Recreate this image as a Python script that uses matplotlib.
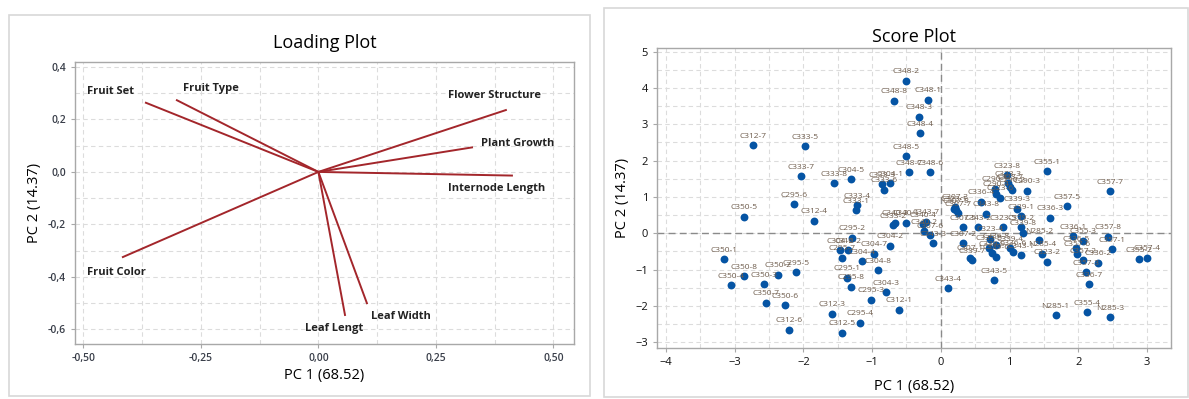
import matplotlib.pyplot as plt
from matplotlib.patches import Rectangle
from matplotlib.ticker import FuncFormatter, MultipleLocator

plt.rcParams['font.family'] = ['Open Sans', 'DejaVu Sans']

# loading plot data
variables = ['Fruit Set', 'Fruit Type', 'Flower Structure', 'Plant Growth',
             'Internode Length', 'Fruit Color', 'Leaf Lengt', 'Leaf Width']
pc1_load = [-0.369, -0.303, 0.401, 0.329, 0.414, -0.418, 0.057, 0.104]
pc2_load = [0.265, 0.275, 0.237, 0.094, -0.014, -0.326, -0.549, -0.504]

# score plot data
samples = ['C312-7', 'C333-5', 'C348-2', 'C348-8', 'C348-1', 'C348-3', 'C348-4',
           'C348-5', 'C348-7', 'C348-6', 'C333-7', 'C333-8', 'C304-5', 'C333-3',
           'C304-1', 'C333-6', 'C295-6', 'C333-4', 'C333-1', 'C350-5', 'C312-4',
           'C340-3', 'C340-1', 'C343-7', 'C340-4', 'C340-2', 'C333-2', 'C307-6',
           'C343-3', 'C304-2', 'C295-2', 'C312-2', 'C304-6', 'C295-7', 'C304-4',
           'C304-7', 'C295-1', 'C304-8', 'C295-8', 'C304-3', 'C295-3', 'C312-1',
           'C312-3', 'C295-4', 'C312-5', 'C350-1', 'C350-8', 'C350-4', 'C350-3',
           'C350-2', 'C295-5', 'C350-7', 'C350-6', 'C312-6', 'C343-4', 'C343-5',
           'C307-3', 'C323-1', 'C307-8', 'C307-7', 'C307-5', 'C343-2', 'C307-2',
           'C307-1', 'C339-7', 'C336-4', 'C343-8', 'C323-5', 'C290-1', 'C290-4',
           'C323-6', 'C323-8', 'C323-3', 'C323-7', 'C290-2', 'C290-3', 'C355-1',
           'C357-7', 'C357-5', 'C339-3', 'C336-3', 'C339-1', 'C339-2', 'C339-8',
           'N285-2', 'N285-4', 'C323-2', 'C336-1', 'C355-3', 'C336-5', 'C357-6',
           'C357-2', 'C357-8', 'C357-1', 'C336-2', 'C355-2', 'C357-4', 'C357-3',
           'C336-7', 'N285-1', 'C355-4', 'N285-3', 'C339-4', 'C336-6', 'C343-1',
           'C339-5', 'C339-6', 'C323-4', 'C336-8', 'C339-9']
pc1_score = [-2.74, -1.97, -0.505, -0.684, -0.185, -0.32, -0.306,
             -0.51, -0.46, -0.15, -2.04, -1.56, -1.30, -0.86,
             -0.74, -0.83, -2.14, -1.22, -1.23, -2.86, -1.85,
             -0.67, -0.50, -0.21, -0.26, -0.24, -0.70, -0.16,
             -0.12, -0.74, -1.29, -1.35, -1.47, -1.44, -1.15,
             -0.97, -1.37, -0.91, -1.31, -0.80, -1.02, -0.61,
             -1.58, -1.17, -1.44, -3.16, -2.86, -3.06, -2.58,
             -2.37, -2.10, -2.55, -2.27, -2.21, 0.11, 0.78,
             0.20, 0.19, 0.22, 0.25, 0.32, 0.54, 0.33,
             0.42, 0.45, 0.59, 0.66, 0.91, 0.79, 0.81,
             0.86, 0.97, 0.98, 1.01, 1.03, 1.26, 1.55,
             2.46, 1.84, 1.11, 1.59, 1.16, 1.17, 1.20,
             1.43, 1.47, 1.54, 1.92, 2.07, 1.97, 1.98,
             2.07, 2.43, 2.49, 2.29, 2.89, 3.00, 2.11,
             2.16, 1.67, 2.13, 2.46, 1.01, 1.05, 1.16,
             0.70, 0.80, 0.71, 0.81, 0.74]
pc2_score = [2.42, 2.40, 4.20, 3.64, 3.68, 3.20, 2.75,
             2.12, 1.68, 1.68, 1.57, 1.37, 1.48, 1.35,
             1.37, 1.20, 0.80, 0.77, 0.63, 0.45, 0.34,
             0.29, 0.29, 0.31, 0.25, 0.05, 0.22, -0.06,
             -0.28, -0.35, -0.12, -0.47, -0.47, -0.67, -0.77,
             -0.56, -1.23, -1.02, -1.48, -1.63, -1.83, -2.11,
             -2.22, -2.46, -2.74, -0.72, -1.18, -1.43, -1.40,
             -1.15, -1.08, -1.92, -1.98, -2.66, -1.52, -1.29,
             0.73, 0.68, 0.63, 0.55, 0.16, 0.17, -0.28,
             -0.67, -0.74, 0.86, 0.54, 0.17, 1.23, 1.09,
             0.98, 1.60, 1.37, 1.28, 1.20, 1.17, 1.71,
             1.16, 0.74, 0.68, 0.43, 0.47, 0.17, 0.01,
             -0.19, -0.56, -0.79, -0.08, -0.21, -0.42, -0.56,
             -0.74, -0.10, -0.44, -0.82, -0.72, -0.67, -1.07,
             -1.40, -2.26, -2.18, -2.32, -0.42, -0.52, -0.61,
             -0.40, -0.65, -0.15, -0.33, -0.55]

W, H = 1189, 399
fig = plt.figure(figsize=(W / 100, H / 100), dpi=100)
fig.patch.set_facecolor('white')

# panel frames
fig.add_artist(Rectangle((9 / W, 1 - 396 / H), 581 / W, 381 / H, transform=fig.transFigure,
                         fill=False, edgecolor='#d8d8d8', lw=1.2))
fig.add_artist(Rectangle((604 / W, 1 - 397 / H), 584 / W, 389 / H, transform=fig.transFigure,
                         fill=False, edgecolor='#d8d8d8', lw=1.2))

grid_kw = dict(color='#dcdcdc', linestyle=(0, (4, 3)), linewidth=0.8)


def style_axes(ax):
    for s in ax.spines.values():
        s.set_color('#a8a8a8')
        s.set_linewidth(1.0)
    ax.tick_params(which='major', length=3, color='#a8a8a8', labelsize=7.5)
    ax.tick_params(which='minor', length=0)
    ax.grid(True, which='both', **grid_kw)
    ax.set_axisbelow(True)


# ---- Loading plot ----
ax1 = fig.add_axes([75 / W, 1 - 344 / H, 499 / W, 282 / H])
style_axes(ax1)
ax1.set_xlim(-0.518, 0.544)
ax1.set_ylim(-0.656, 0.419)
ax1.xaxis.set_major_locator(MultipleLocator(0.25))
ax1.xaxis.set_minor_locator(MultipleLocator(0.125))
ax1.yaxis.set_major_locator(MultipleLocator(0.2))
ax1.yaxis.set_minor_locator(MultipleLocator(0.1))
ax1.xaxis.set_major_formatter(FuncFormatter(lambda v, p: f'{v:.2f}'.replace('.', ',')))
ax1.yaxis.set_major_formatter(FuncFormatter(lambda v, p: f'{v:.1f}'.replace('.', ',')))
for lab in ax1.get_xticklabels() + ax1.get_yticklabels():
    lab.set_fontweight('semibold')
    lab.set_color('#3a3f4a')

label_offsets = {
    'Fruit Set': (-42, 8), 'Fruit Type': (5, 8), 'Flower Structure': (-42, 10),
    'Plant Growth': (6, 3), 'Internode Length': (-47, -9), 'Fruit Color': (-25, -11),
    'Leaf Lengt': (-29, -9), 'Leaf Width': (3, -9),
}
for name, x, y in zip(variables, pc1_load, pc2_load):
    ax1.plot([0, x], [0, y], color='#a3262b', lw=1.4, solid_capstyle='butt')
    ax1.annotate(name, (x, y), xytext=label_offsets[name], textcoords='offset points',
                 ha='left', va='center', fontsize=8, fontweight='bold', color='#222222')

ax1.set_title('Loading Plot', fontsize=13, pad=10)
ax1.set_xlabel('PC 1 (68.52)', fontsize=10.5, labelpad=3)
ax1.set_ylabel('PC 2 (14.37)', fontsize=10.5, labelpad=4)

# ---- Score plot ----
ax2 = fig.add_axes([657 / W, 1 - 348 / H, 514 / W, 300 / H])
style_axes(ax2)
ax2.set_xlim(-4.13, 3.35)
ax2.set_ylim(-3.16, 5.10)
ax2.xaxis.set_major_locator(MultipleLocator(1))
ax2.xaxis.set_minor_locator(MultipleLocator(0.5))
ax2.yaxis.set_major_locator(MultipleLocator(1))
ax2.yaxis.set_minor_locator(MultipleLocator(0.5))
ax2.tick_params(labelsize=8, labelcolor='#111111')
ax2.axhline(0, color='#8a8a8a', lw=1.0, linestyle=(0, (5, 3)), zorder=1)
ax2.axvline(0, color='#8a8a8a', lw=1.0, linestyle=(0, (5, 3)), zorder=1)

ax2.scatter(pc1_score, pc2_score, s=32, color='#0554a4', zorder=3, linewidths=0)
for name, x, y in zip(samples, pc1_score, pc2_score):
    ax2.annotate(name, (x, y), xytext=(0, 4), textcoords='offset points',
                 ha='center', va='bottom', fontsize=6, color='#6e5c4c', zorder=4)

ax2.set_title('Score Plot', fontsize=13, pad=4)
ax2.set_xlabel('PC 1 (68.52)', fontsize=10.5, labelpad=8)
ax2.set_ylabel('PC 2 (14.37)', fontsize=10.5, labelpad=4)

fig.savefig('out.png', dpi=100)
